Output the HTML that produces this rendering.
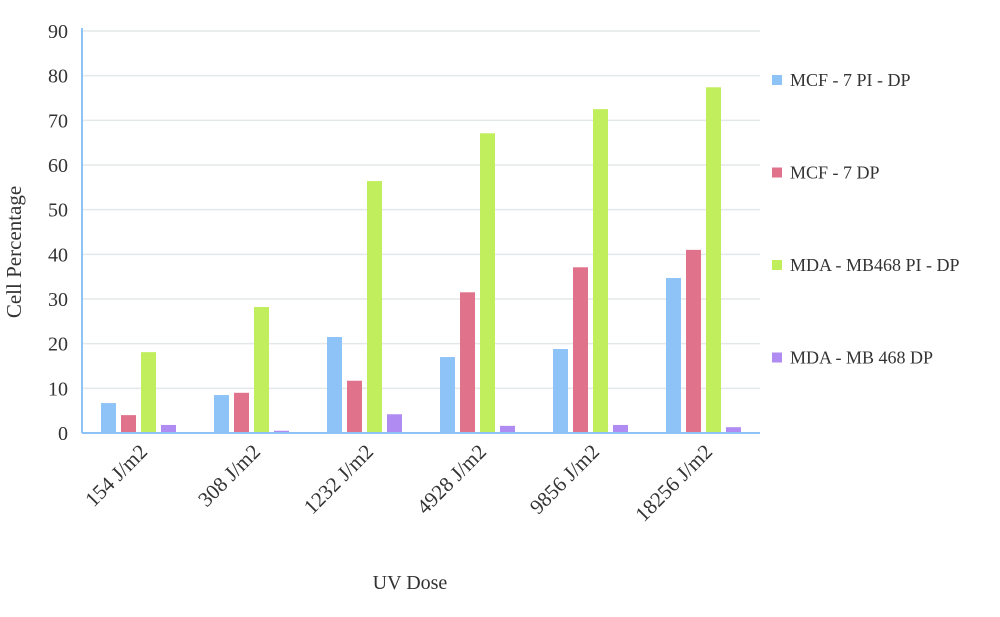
<!DOCTYPE html>
<html><head><meta charset="utf-8"><style>
body{margin:0;background:#fff;}
text{font-family:"Liberation Serif",serif;fill:#333;}
</style></head><body>
<svg id="chart" width="1000" height="612" xmlns="http://www.w3.org/2000/svg">
<g id="grid"></g><g id="bars"></g><g id="axes"></g><g id="legend"></g>
<text x="410" y="589" font-size="20" text-anchor="middle">UV Dose</text>
<text transform="translate(21,252) rotate(-90)" font-size="21" text-anchor="middle">Cell Percentage</text>
</svg>
<script>
const categories=["154 J/m2","308 J/m2","1232 J/m2","4928 J/m2","9856 J/m2","18256 J/m2"];
const seriesNames=["MCF - 7 PI - DP","MCF - 7 DP","MDA - MB468 PI - DP","MDA - MB 468 DP"];
const mcfPiDp=[6.7,8.5,21.5,17,18.8,34.7];
const mcfDp=[4.0,9.0,11.7,31.5,37.1,41];
const mdaPiDp=[18.1,28.2,56.4,67.1,72.5,77.4];
const mdaDp=[1.8,0.5,4.2,1.6,1.8,1.3];
const yTicks=[0,10,20,30,40,50,60,70,80,90];
const series=[mcfPiDp,mcfDp,mdaPiDp,mdaDp];
const colors=["#8ec3f7","#e0728c","#c0ee5c","#b08cf2"];
const NS="http://www.w3.org/2000/svg";
const x0=82,x1=760,y0=433,y90=31;
const y=v=>y0-(v/90)*(y0-y90);
const gw=(x1-x0)/categories.length;
const bw=15,gap=5;
function mk(tag,attrs,parent){const e=document.createElementNS(NS,tag);for(const k in attrs)e.setAttribute(k,attrs[k]);document.getElementById(parent).appendChild(e);return e;}
yTicks.forEach(t=>{
  if(t>0){const l=mk("line",{x1:x0,x2:x1,y1:y(t),y2:y(t),stroke:"#e3e8ea","stroke-width":1.5},"grid");
  
  }
  const tx=mk("text",{x:68,y:y(t)+7,"font-size":20,"text-anchor":"end"},"axes");
  tx.textContent=t;
  
  
});
categories.forEach((c,i)=>{
  const cx=x0+gw*(i+0.5);
  const start=cx-(4*bw+3*gap)/2;
  series.forEach((s,j)=>{
    const r=mk("rect",{x:start+j*(bw+gap),y:y(s[i]),width:bw,height:y0-y(s[i]),fill:colors[j]},"bars");
    
    
  });
  const tx=mk("text",{transform:`translate(${cx+10},${453}) rotate(-45)`,"font-size":21,"text-anchor":"end"},"axes");
  tx.textContent=c;
  
  
});
const ax=mk("line",{x1:x0,x2:x1,y1:y0,y2:y0,stroke:"#8ec3f7","stroke-width":2},"axes");


const ay=mk("line",{x1:x0,x2:x0,y1:y90-3,y2:y0,stroke:"#8ec3f7","stroke-width":2},"axes");


seriesNames.forEach((n,j)=>{
  const ly=80+j*92.5;
  const sq=mk("rect",{x:772,y:ly-5,width:10,height:10,fill:colors[j]},"legend");
  
  
  const t=mk("text",{x:790,y:ly+6,"font-size":18},"legend");
  t.textContent=n;
  
  
});
</script>
</body></html>
